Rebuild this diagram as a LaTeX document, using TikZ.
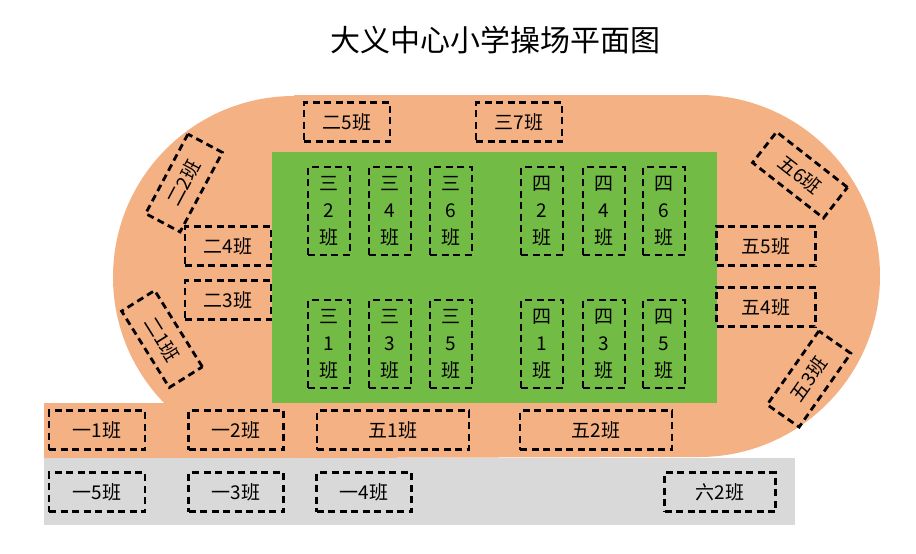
\documentclass[tikz,border=0pt]{standalone}
\usepackage{fontspec}
\newfontfamily\cjk{Noto Sans CJK SC}
\definecolor{track}{HTML}{F4B183}
\definecolor{field}{HTML}{72BB44}
\definecolor{pave}{HTML}{D9D9D9}
\begin{document}
\begin{tikzpicture}[x=1pt,y=-1pt,
  cls/.style={draw=black,line width=2.8pt,dash pattern=on 7pt off 4.5pt,inner sep=0pt,font=\cjk\fontsize{19}{19}\selectfont},
  hb/.style={cls,minimum width=#1,minimum height=39pt},
  vb/.style={cls,minimum width=42pt,minimum height=88pt,align=center,font=\cjk\fontsize{19}{27}\selectfont}]
\useasboundingbox (0,0) rectangle (916,554);
\fill[pave] (44,458) rectangle (795,525);
\fill[track] (44,403) rectangle (300,458);
\fill[track] (294,95) -- (699,95) arc[start angle=-90,end angle=90,radius=181] -- (294,458) arc[start angle=90,end angle=270,radius=181] -- cycle;
\fill[field] (272,152) rectangle (717,403);
\node[font=\cjk\fontsize{30}{30}\selectfont] (title) at (495,40) {大义中心小学操场平面图};
\node[hb=86pt] (e5) at (347,122) {二5班};
\node[hb=86pt] (s7) at (519,122) {三7班};
\node[hb=86pt] (e4) at (228,246) {二4班};
\node[hb=86pt] (e3) at (228,300) {二3班};
\node[hb=90pt,rotate=62] (e2) at (184,183) {二2班};
\node[hb=90pt,rotate=-58] (e1) at (162,339) {二1班};
\node[hb=90pt,rotate=-38] (w6) at (800,175) {五6班};
\node[hb=90pt,rotate=55] (w3) at (809,379) {五3班};
\node[hb=99pt] (w5) at (766,246) {五5班};
\node[hb=99pt] (w4) at (766,307) {五4班};
\node[vb] (s2) at (329,211) {三\\2\\班};
\node[vb] (s4) at (390,211) {三\\4\\班};
\node[vb] (s6) at (451,211) {三\\6\\班};
\node[vb] (f2) at (542,211) {四\\2\\班};
\node[vb] (f4) at (604,211) {四\\4\\班};
\node[vb] (f6) at (664,211) {四\\6\\班};
\node[vb] (s1) at (329,344) {三\\1\\班};
\node[vb] (s3) at (390,344) {三\\3\\班};
\node[vb] (s5) at (451,344) {三\\5\\班};
\node[vb] (f1) at (542,344) {四\\1\\班};
\node[vb] (f3) at (604,344) {四\\3\\班};
\node[vb] (f5) at (664,344) {四\\5\\班};
\node[hb=96pt] (y1) at (97,430) {一1班};
\node[hb=95pt] (y2) at (236,430) {一2班};
\node[hb=152pt] (w1) at (393,430) {五1班};
\node[hb=152pt] (w2) at (596,430) {五2班};
\node[hb=96pt] (y5) at (97,492) {一5班};
\node[hb=95pt] (y3) at (236,492) {一3班};
\node[hb=95pt] (y4) at (364,492) {一4班};
\node[hb=111pt] (l2) at (720,492) {六2班};
\end{tikzpicture}
\end{document}
